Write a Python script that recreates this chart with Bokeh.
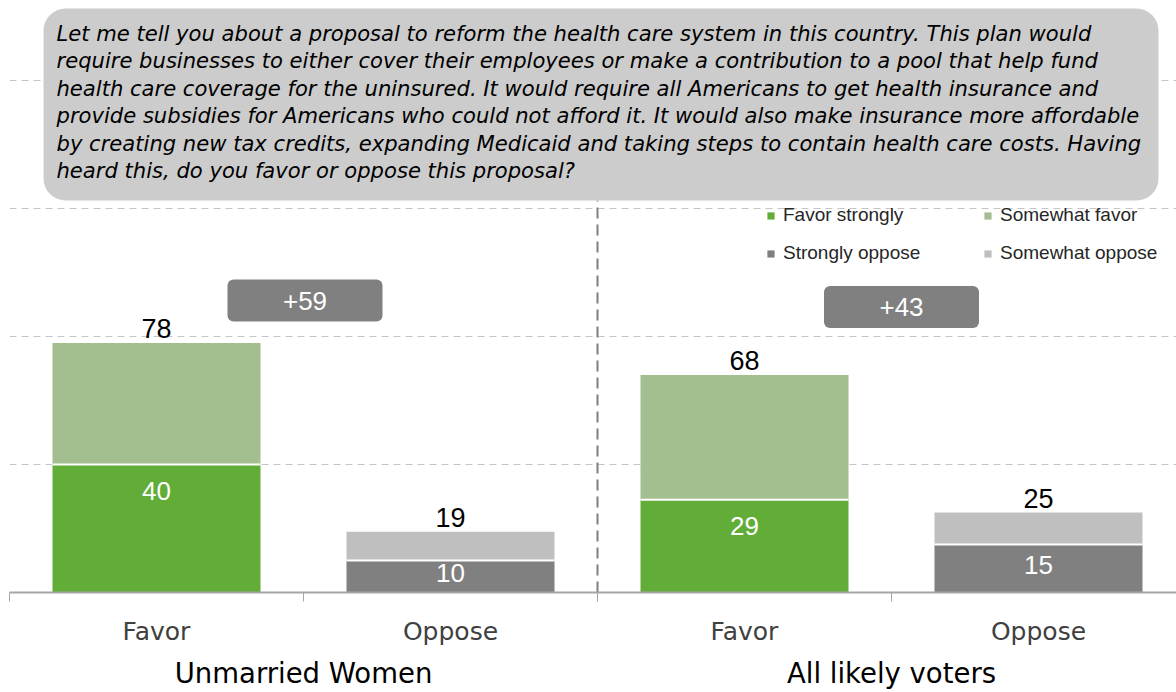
from bokeh.plotting import figure
from bokeh.models import (Range1d, LinearAxis, FixedTicker, Grid, Legend,
                          LegendItem, ColumnDataSource)
from bokeh.core.properties import value
from bokeh.embed import file_html
from bokeh.resources import INLINE

# ---------------- data ----------------
groups = ["Unmarried Women", "All likely voters"]
categories = ["Favor", "Oppose", "Favor", "Oppose"]
strong = [40, 10, 29, 15]          # Favor strongly / Strongly oppose
total = [78, 19, 68, 25]           # total favor / total oppose
margins = [59, 43]
series_names = ["Favor strongly", "Somewhat favor", "Strongly oppose", "Somewhat oppose"]
grid_values = [40, 80, 120, 160]
question_lines = [
    "Let me tell you about a proposal to reform the health care system in this country.  This plan would",
    "require businesses to either cover their employees or make a contribution to a pool that help fund",
    "health care coverage for the uninsured. It would require all Americans to get health insurance and",
    "provide subsidies for Americans who could not afford it. It would also make insurance more affordable",
    "by creating new tax credits, expanding Medicaid and taking steps to contain health care costs. Having",
    "heard this, do you favor or oppose this proposal?",
]

# ---------------- style / layout ----------------
GREEN, LGREEN, DGREY, LGREY = "#62ad38", "#a3be8f", "#808080", "#bfbfbf"
FONT = "Liberation Sans"
WIDE = "DejaVu Sans"
W, H = 1176, 692
FRAME_L = 9
FRAME_B = 100
BAND_PX = 294.0
PX_PER_UNIT = 3.2
Y_MAX = (H - FRAME_B) / PX_PER_UNIT
X_MAX = (W - FRAME_L) / BAND_PX


def xd(px):
    return (px - FRAME_L) / BAND_PX


def yd(py):
    return (H - FRAME_B - py) / PX_PER_UNIT


p = figure(width=W, height=H, x_range=Range1d(0, X_MAX), y_range=Range1d(0, Y_MAX),
           x_axis_location=None, y_axis_location=None, toolbar_location=None,
           output_backend="svg", min_border_left=FRAME_L, min_border_right=0,
           min_border_top=0, min_border_bottom=FRAME_B)
p.outline_line_color = None
p.grid.visible = False

# grid lines
grid = Grid(dimension=1, ticker=FixedTicker(ticks=grid_values), grid_line_color="#c6c6c6",
            grid_line_dash="7 5", grid_line_width=1)
p.add_layout(grid)

# divider between the two groups (drawn under the question box)
mid = len(categories) / 2
p.segment(x0=[mid], x1=[mid], y0=[0], y1=[yd(200)], line_color="#7f7f7f",
          line_dash="11 6", line_width=2)

# bars
x = [i + 0.5 for i in range(len(categories))]
is_favor = [c == "Favor" for c in categories]
BAR_W = 208 / BAND_PX
src = ColumnDataSource(dict(
    x=x, strong=strong, total=total,
    x0=[v - BAR_W / 2 for v in x], x1=[v + BAR_W / 2 for v in x],
    c_strong=[GREEN if f else DGREY for f in is_favor],
    c_some=[LGREEN if f else LGREY for f in is_favor],
    strong_lbl=[str(v) for v in strong],
    total_lbl=[str(v) for v in total],
    strong_lbl_y=[s if f else s / 2 for s, f in zip(strong, is_favor)],
    strong_lbl_off=[26 if f else -4 for f in is_favor],
))
r_strong = p.vbar(x="x", width=BAR_W, bottom=0, top="strong", fill_color="c_strong",
                  line_color=None, source=src)
r_some = p.vbar(x="x", width=BAR_W, bottom="strong", top="total", fill_color="c_some",
                line_color=None, source=src)
p.segment(x0="x0", x1="x1", y0="strong", y1="strong", line_color="white", line_width=2,
          source=src)

p.text(x="x", y="total", text="total_lbl", source=src, text_align="center",
       text_baseline="middle", y_offset=-14, text_font=value(FONT),
       text_font_size="27px", text_color="black")
p.text(x="x", y="strong_lbl_y", text="strong_lbl", source=src, text_align="center",
       text_baseline="middle", y_offset="strong_lbl_off", text_font=value(FONT),
       text_font_size="26px", text_color="white")

# margin boxes
box_x = [xd(304.5), xd(901)]
box_y = [yd(300), yd(306.5)]
BW, BH = 155 / BAND_PX, 42 / PX_PER_UNIT
p.quad(left=[b - BW / 2 for b in box_x], right=[b + BW / 2 for b in box_x],
       top=[b + BH / 2 for b in box_y], bottom=[b - BH / 2 for b in box_y],
       fill_color=DGREY, line_color=None, border_radius=6)
p.text(x=box_x, y=box_y, text=[f"+{m}" for m in margins], text_align="center",
       text_baseline="middle", text_font=value(FONT), text_font_size="26px",
       text_color="white")

# question box
p.quad(left=[xd(43)], right=[xd(1158)], top=[yd(8)], bottom=[yd(200)],
       fill_color="#cccccc", line_color=None, border_radius=22)
p.text(x=[xd(56)] * len(question_lines),
       y=[yd(33 + i * 27.4) for i in range(len(question_lines))],
       text=question_lines, text_align="left", text_baseline="middle",
       text_font=value(WIDE), text_font_style="italic", text_font_size="21.1px",
       text_color="black")

# axes
ax = LinearAxis(ticker=FixedTicker(ticks=x, minor_ticks=list(range(len(categories) + 1))),
                major_label_overrides={xi: c for xi, c in zip(x, categories)},
                axis_line_color="#a6a6a6", axis_line_width=2,
                major_tick_line_color=None, major_tick_in=0, major_tick_out=0,
                minor_tick_line_color="#a6a6a6", minor_tick_in=0, minor_tick_out=9,
                major_label_standoff=15, major_label_text_font=WIDE,
                major_label_text_font_size="25px", major_label_text_color="#404040")
p.add_layout(ax, "below")
group_x = [1.0, 3.0]
ax2 = LinearAxis(ticker=FixedTicker(ticks=group_x),
                 major_label_overrides={g: n for g, n in zip(group_x, groups)},
                 axis_line_color=None, major_tick_line_color=None,
                 minor_tick_line_color=None, major_tick_in=0, major_tick_out=0,
                 minor_tick_in=0, minor_tick_out=0, major_label_standoff=8,
                 major_label_text_font=WIDE, major_label_text_font_size="27.5px",
                 major_label_text_color="black")
p.add_layout(ax2, "below")

# legends
leg_style = dict(border_line_color=None, background_fill_alpha=0, padding=0, margin=0,
                 spacing=16, glyph_width=9, glyph_height=9, label_standoff=8,
                 label_text_font=FONT, label_text_font_size="19px",
                 label_text_color="#262626")
legA = Legend(items=[LegendItem(label=series_names[0], renderers=[r_strong], index=0),
                     LegendItem(label=series_names[2], renderers=[r_strong], index=1)],
              location=(757, 328), **leg_style)
legB = Legend(items=[LegendItem(label=series_names[1], renderers=[r_some], index=0),
                     LegendItem(label=series_names[3], renderers=[r_some], index=1)],
              location=(974, 328), **leg_style)
p.add_layout(legA)
p.add_layout(legB)

open("out.html", "w").write(file_html(p, INLINE))
